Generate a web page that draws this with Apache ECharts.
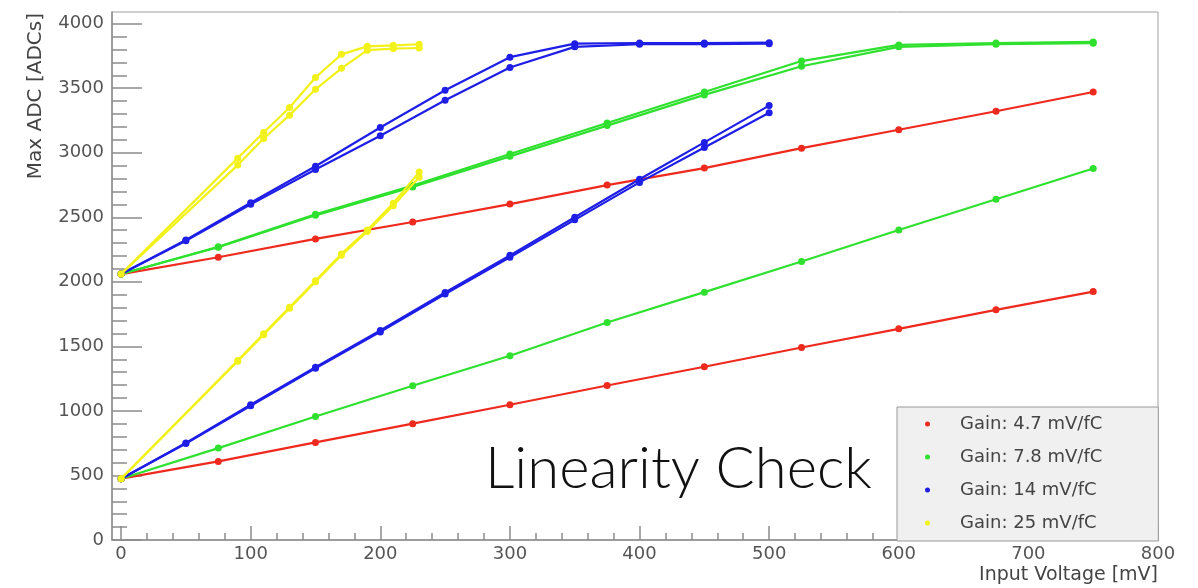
<!DOCTYPE html>
<html>
<head>
<meta charset="utf-8">
<script src="https://cdn.jsdelivr.net/npm/echarts@6/dist/echarts.min.js"></script>
<style>html,body{margin:0;padding:0;background:#fff}#c{width:1198px;height:588px}</style>
</head>
<body>
<div id="c"></div>
<script>
// ---- data ----
const gainNames = ['Gain: 4.7 mV/fC', 'Gain: 7.8 mV/fC', 'Gain: 14 mV/fC', 'Gain: 25 mV/fC'];
const gainColors = ['#ee2a1e', '#2fe02f', '#1e1ee6', '#f2f21a'];
const xTitle = 'Input Voltage [mV]';
const yTitle = 'Max ADC [ADCs]';
const chartTitle = 'Linearity Check';

const xRed = [0, 75, 150, 225, 300, 375, 450, 525, 600, 675, 750];
const redHigh = [2060, 2190, 2332, 2463, 2602, 2749, 2881, 3035, 3178, 3321, 3470];
const redLow  = [475, 609, 756, 901, 1048, 1197, 1342, 1491, 1636, 1783, 1924];

const xGreen = [0, 75, 150, 225, 300, 375, 450, 525, 600, 675, 750];
const greenHighA = [2060, 2272, 2523, 2746, 2990, 3230, 3470, 3710, 3835, 3850, 3858];
const greenHighB = [2060, 2268, 2515, 2735, 2972, 3210, 3448, 3670, 3820, 3840, 3848];
const greenLow   = [475, 712, 957, 1195, 1427, 1685, 1920, 2157, 2401, 2639, 2878];

const xBlue = [0, 50, 100, 150, 200, 250, 300, 350, 400, 450, 500];
const blueHighA = [2060, 2324, 2612, 2895, 3195, 3484, 3740, 3845, 3850, 3850, 3852];
const blueHighB = [2060, 2318, 2600, 2870, 3131, 3407, 3660, 3820, 3840, 3840, 3845];
const blueLowA  = [475, 752, 1048, 1339, 1623, 1917, 2205, 2500, 2795, 3080, 3365];
const blueLowB  = [475, 748, 1040, 1330, 1612, 1905, 2190, 2480, 2770, 3040, 3310];

const xYellow = [0, 90, 110, 130, 150, 170, 190, 210, 230];
const yellowHighA = [2060, 2958, 3157, 3350, 3583, 3762, 3824, 3832, 3840];
const yellowHighB = [2060, 2904, 3110, 3291, 3491, 3654, 3794, 3807, 3811];
const yellowLowA  = [475, 1390, 1597, 1803, 2009, 2216, 2401, 2608, 2850];
const yellowLowB  = [475, 1385, 1590, 1795, 2000, 2205, 2390, 2590, 2810];

const xMajorTicks = [0, 100, 200, 300, 400, 500, 600, 700, 800];
const yMajorTicks = [0, 500, 1000, 1500, 2000, 2500, 3000, 3500, 4000];

// ---- build ----
const xMinorTicks = [];
for (let i = 0; i < xMajorTicks.length - 1; i++) {
  const a = xMajorTicks[i], b = xMajorTicks[i + 1];
  for (let k = 1; k < 5; k++) xMinorTicks.push(a + (b - a) * k / 5);
}
const yMinorTicks = [];
for (let i = 0; i < yMajorTicks.length - 1; i++) {
  const a = yMajorTicks[i], b = yMajorTicks[i + 1];
  for (let k = 1; k < 5; k++) yMinorTicks.push(a + (b - a) * k / 5);
}
const pair = (xs, ys) => xs.map((x, i) => [x, ys[i]]);

const curves = [
  [0, xRed, redHigh], [0, xRed, redLow],
  [1, xGreen, greenHighA], [1, xGreen, greenHighB], [1, xGreen, greenLow],
  [2, xBlue, blueHighA], [2, xBlue, blueHighB], [2, xBlue, blueLowA], [2, xBlue, blueLowB],
  [3, xYellow, yellowHighA], [3, xYellow, yellowHighB], [3, xYellow, yellowLowA], [3, xYellow, yellowLowB]
];
const series = curves.map(([g, xs, ys]) => ({
  name: gainNames[g],
  type: 'line',
  xAxisIndex: 0, yAxisIndex: 0,
  data: pair(xs, ys),
  symbol: 'circle',
  symbolSize: 7,
  color: gainColors[g],
  lineStyle: { width: 2.2, color: gainColors[g] },
  itemStyle: { color: gainColors[g] },
  emphasis: { disabled: true },
  z: 2 + g
}));

const axisGray = '#8c8c8c';
const labelFont = { fontFamily: 'DejaVu Sans', fontSize: 18, color: '#555', formatter: v => String(v) };
const XMIN = -7, XMAX = 800, YMIN = 0, YMAX = 4090;

const option = {
  animation: false,
  backgroundColor: '#fff',
  grid: { left: 112, right: 40, top: 12, bottom: 48, show: true, borderColor: '#a0a0a0', borderWidth: 1, backgroundColor: '#fff', containLabel: false, outerBoundsMode: 'none' },
  xAxis: [
    {
      type: 'value', min: XMIN, max: XMAX, position: 'bottom',
      axisLine: { show: true, onZero: false, lineStyle: { color: axisGray, width: 1.5 } },
      axisTick: { show: true, inside: true, length: 14, customValues: xMajorTicks, lineStyle: { color: axisGray, width: 1.5 } },
      axisLabel: { show: true, customValues: xMajorTicks, margin: 5, ...labelFont },
      splitLine: { show: false }
    },
    {
      type: 'value', min: XMIN, max: XMAX, position: 'bottom',
      axisLine: { show: false, onZero: false },
      axisTick: { show: true, inside: true, length: 7, customValues: xMinorTicks, lineStyle: { color: axisGray, width: 1.5 } },
      axisLabel: { show: false },
      splitLine: { show: false }
    }
  ],
  yAxis: [
    {
      type: 'value', min: YMIN, max: YMAX, position: 'left',
      axisLine: { show: true, onZero: false, lineStyle: { color: axisGray, width: 1.5 } },
      axisTick: { show: true, inside: true, length: 30, customValues: yMajorTicks, lineStyle: { color: axisGray, width: 1.5 } },
      axisLabel: { show: true, customValues: yMajorTicks, margin: 8, ...labelFont },
      splitLine: { show: false }
    },
    {
      type: 'value', min: YMIN, max: YMAX, position: 'left',
      axisLine: { show: false, onZero: false },
      axisTick: { show: true, inside: true, length: 15, customValues: yMinorTicks, lineStyle: { color: axisGray, width: 1.5 } },
      axisLabel: { show: false },
      splitLine: { show: false }
    }
  ],
  legend: {
    data: gainNames,
    orient: 'vertical',
    left: 897, top: 407,
    backgroundColor: '#f0f0f0', borderColor: '#999', borderWidth: 1,
    padding: [8, 56, 9, 28],
    itemGap: 15,
    icon: 'circle', itemWidth: 5, itemHeight: 5,
    selectedMode: false,
    textStyle: { fontFamily: 'DejaVu Sans', fontSize: 18, color: '#444', padding: [0, 0, 0, 25] }
  },
  graphic: [
    {
      type: 'text', left: 485, top: 440, z: 100,
      style: { text: chartTitle, fontFamily: 'Lato', fontWeight: 300, fontSize: 58, fill: '#111' }
    },
    {
      type: 'text', right: 40, top: 566, z: 100,
      style: { text: xTitle, fontFamily: 'DejaVu Sans', fontSize: 19, fill: '#444' }
    },
    {
      type: 'text', left: 26, top: 13, rotation: Math.PI / 2, z: 100,
      style: { text: yTitle, fontFamily: 'DejaVu Sans', fontSize: 20, fill: '#444' }
    }
  ],
  series: series
};

const chart = echarts.init(document.getElementById('c'), null, { renderer: 'canvas' });
chart.setOption(option);
</script>
</body>
</html>
